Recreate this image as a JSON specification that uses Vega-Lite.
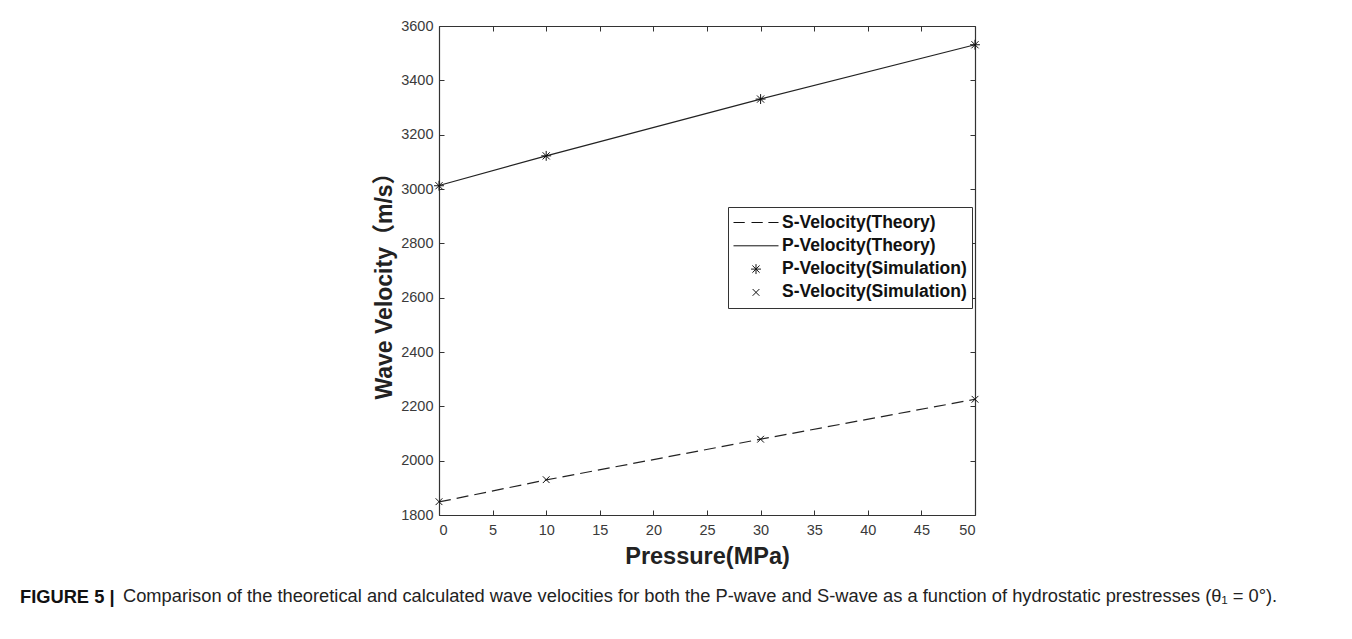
{
  "$schema": "https://vega.github.io/schema/vega-lite/v6.json",
  "autosize": {"type": "pad"},
  "padding": {"left": 20, "top": 18, "right": 20, "bottom": 20},
  "background": "white",
  "datasets": {
    "theory": [
      {"pressure": 0, "velocity": 1848, "series": "S-Velocity(Theory)"},
      {"pressure": 10, "velocity": 1929, "series": "S-Velocity(Theory)"},
      {"pressure": 30, "velocity": 2079, "series": "S-Velocity(Theory)"},
      {"pressure": 50, "velocity": 2226, "series": "S-Velocity(Theory)"},
      {"pressure": 0, "velocity": 3013, "series": "P-Velocity(Theory)"},
      {"pressure": 10, "velocity": 3122, "series": "P-Velocity(Theory)"},
      {"pressure": 30, "velocity": 3331, "series": "P-Velocity(Theory)"},
      {"pressure": 50, "velocity": 3531, "series": "P-Velocity(Theory)"}
    ],
    "simulation": [
      {"pressure": 0, "velocity": 3012, "series": "P-Velocity(Simulation)"},
      {"pressure": 10, "velocity": 3122, "series": "P-Velocity(Simulation)"},
      {"pressure": 30, "velocity": 3331, "series": "P-Velocity(Simulation)"},
      {"pressure": 50, "velocity": 3531, "series": "P-Velocity(Simulation)"},
      {"pressure": 0, "velocity": 1849, "series": "S-Velocity(Simulation)"},
      {"pressure": 10, "velocity": 1930, "series": "S-Velocity(Simulation)"},
      {"pressure": 30, "velocity": 2079, "series": "S-Velocity(Simulation)"},
      {"pressure": 50, "velocity": 2226, "series": "S-Velocity(Simulation)"}
    ]
  },
  "title": {
    "text": "Comparison of the theoretical and calculated wave velocities for both the P-wave and S-wave as a function of hydrostatic prestresses (θ₁ = 0°).",
    "orient": "bottom",
    "anchor": "start",
    "frame": "group",
    "dx": -316,
    "offset": -18,
    "font": "Liberation Sans",
    "fontSize": 18.3,
    "fontWeight": "normal",
    "color": "#222222"
  },
  "config": {
    "view": {"stroke": null},
    "axis": {
      "grid": false,
      "domainColor": "#333333",
      "domainWidth": 1.2,
      "tickColor": "#333333",
      "tickSize": -5,
      "labelFont": "Liberation Sans",
      "labelFontSize": 14.5,
      "labelColor": "#3a3a3a",
      "titleFont": "Liberation Sans, Noto Sans CJK SC",
      "titleFontWeight": "bold",
      "titleColor": "#222222"
    }
  },
  "vconcat": [
    {
      "width": 536,
      "height": 489,
      "title": {
        "text": "FIGURE 5 |",
        "orient": "bottom",
        "anchor": "start",
        "frame": "group",
        "dx": -419,
        "offset": 21,
        "font": "Liberation Sans",
        "fontSize": 18.3,
        "fontWeight": "bold",
        "color": "#111111"
      },
      "resolve": {"axis": {"x": "independent", "y": "independent"}},
      "layer": [
        {
          "data": {"name": "theory"},
          "transform": [{"filter": "datum.series === 'S-Velocity(Theory)'"}],
          "mark": {"type": "line", "color": "#222222", "strokeWidth": 1.2, "strokeDash": [12, 6]},
          "encoding": {
            "x": {
              "field": "pressure",
              "type": "quantitative",
              "scale": {"domain": [0, 50], "nice": false},
              "axis": {
                "orient": "bottom",
                "values": [0, 5, 10, 15, 20, 25, 30, 35, 40, 45, 50],
                "title": "Pressure(MPa)",
                "titleFontSize": 23.5,
                "labelPadding": 13,
                "titlePadding": 8
              }
            },
            "y": {
              "field": "velocity",
              "type": "quantitative",
              "scale": {"domain": [1800, 3600], "nice": false, "zero": false},
              "axis": {
                "orient": "left",
                "values": [1800, 2000, 2200, 2400, 2600, 2800, 3000, 3200, 3400, 3600],
                "format": "d",
                "title": "Wave Velocity（m/s）",
                "titleFontSize": 23,
                "titleY": 254,
                "labelPadding": 11,
                "titlePadding": 4
              }
            }
          }
        },
        {
          "data": {"name": "theory"},
          "transform": [{"filter": "datum.series === 'P-Velocity(Theory)'"}],
          "mark": {"type": "line", "color": "#222222", "strokeWidth": 1.2},
          "encoding": {
            "x": {
              "field": "pressure",
              "type": "quantitative",
              "axis": {
                "orient": "top",
                "values": [0, 5, 10, 15, 20, 25, 30, 35, 40, 45, 50],
                "labels": false,
                "title": null
              }
            },
            "y": {
              "field": "velocity",
              "type": "quantitative",
              "axis": {
                "orient": "right",
                "values": [1800, 2000, 2200, 2400, 2600, 2800, 3000, 3200, 3400, 3600],
                "labels": false,
                "title": null
              }
            }
          }
        },
        {
          "data": {"name": "simulation"},
          "mark": {"type": "point", "filled": false, "color": "#111111", "strokeWidth": 1, "size": 2025, "opacity": 1},
          "encoding": {
            "x": {"field": "pressure", "type": "quantitative", "axis": null},
            "y": {"field": "velocity", "type": "quantitative", "axis": null},
            "shape": {
              "field": "series",
              "type": "nominal",
              "scale": {
                "domain": ["S-Velocity(Theory)", "P-Velocity(Theory)", "P-Velocity(Simulation)", "S-Velocity(Simulation)"],
                "range": [
                  "M-1,0H-0.5M-0.2,0H0.3M0.55,0H1",
                  "M-1,0H1",
                  "M-0.22,0H0.22M0,-0.22V0.22M-0.16,-0.16L0.16,0.16M-0.16,0.16L0.16,-0.16",
                  "M-0.15,-0.15L0.15,0.15M-0.15,0.15L0.15,-0.15"
                ]
              },
              "legend": {
                "orient": "none",
                "legendX": 289,
                "legendY": 181,
                "title": null,
                "strokeColor": "#333333",
                "fillColor": "white",
                "padding": 5,
                "clipHeight": 21,
                "rowPadding": 2.3,
                "symbolSize": 2025,
                "symbolStrokeColor": "#111111",
                "symbolStrokeWidth": 1,
                "symbolFillColor": "transparent",
                "labelFont": "Liberation Sans",
                "labelFontSize": 17.5,
                "labelFontWeight": "bold",
                "labelColor": "#111111",
                "labelLimit": 400,
                "labelOffset": 3
              }
            }
          }
        }
      ]
    }
  ]
}
